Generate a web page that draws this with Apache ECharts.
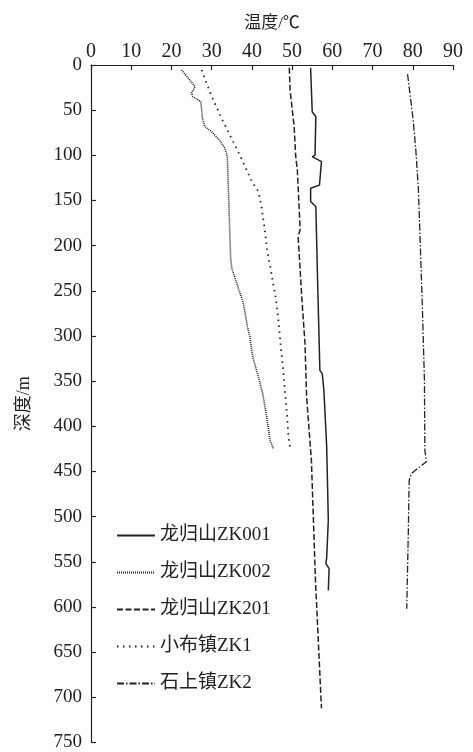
<!DOCTYPE html>
<html>
<head>
<meta charset="utf-8">
<script src="https://cdn.jsdelivr.net/npm/echarts@6/dist/echarts.min.js"></script>
<style>
  html, body { margin: 0; padding: 0; background: #fff; }
  #chart { width: 473px; height: 752px; }
</style>
</head>
<body>
<div id="chart"></div>
<script>
// 井温数据：深度(m) 与 温度(℃)
const zk001Depth = [3, 52, 57, 100, 101.5, 107, 133, 136.5, 151, 157, 250, 338, 342, 360, 423, 504, 545, 552, 557.6, 581.6];
const zk001Temp  = [54.6, 55.0, 55.9, 55.7, 55.0, 57.3, 56.8, 54.6, 54.6, 55.9, 56.4, 56.9, 57.5, 57.9, 58.6, 59.0, 58.6, 58.4, 59.2, 59.0];

const zk002Depth = [5.5, 24, 31, 35, 40.6, 59, 68, 74, 83, 92, 101.6, 157, 212, 225, 264, 290, 301, 323, 345, 364, 390, 415, 424.6];
const zk002Temp  = [22.5, 25.9, 25.0, 25.3, 27.3, 27.7, 28.3, 30.0, 31.9, 33.3, 33.9, 34.3, 34.7, 35.0, 37.9, 38.9, 39.5, 40.2, 41.6, 42.7, 43.7, 44.5, 45.3];

const zk201Depth = [3, 28, 68, 101.5, 116, 182, 190, 257, 308, 367, 438, 570, 712];
const zk201Temp  = [49.3, 49.5, 50.5, 50.9, 51.3, 52.0, 51.5, 52.4, 53.2, 53.6, 54.8, 55.8, 57.3];

const zk1Depth = [5.5, 35, 63, 96, 129, 140, 157, 186, 205, 222, 257, 283, 312, 338, 360, 386, 412, 423];
const zk1Temp  = [27.5, 30.0, 32.9, 36.6, 40.0, 41.6, 42.4, 43.3, 43.8, 44.5, 45.9, 46.6, 47.2, 47.8, 48.2, 48.7, 49.1, 49.5];

const zk2Depth = [10, 57, 90.5, 138, 190, 270, 349, 426.5, 439, 452, 460, 515, 602];
const zk2Temp  = [78.7, 80.0, 80.7, 81.4, 81.8, 82.4, 82.9, 83.0, 83.4, 79.7, 79.1, 78.9, 78.5];

const wellNames = ['龙归山ZK001', '龙归山ZK002', '龙归山ZK201', '小布镇ZK1', '石上镇ZK2'];

const fontFamily = "'Liberation Serif', 'Noto Sans CJK SC', serif";
const chart = echarts.init(document.getElementById('chart'));

function pairs(temps, depths) {
    return temps.map((t, i) => [t, depths[i]]);
}

function makeSeries(name, temps, depths, lineType, width) {
    return {
        name: name,
        type: 'line',
        symbol: 'none',
        smooth: false,
        data: pairs(temps, depths),
        lineStyle: {
            color: '#222',
            width: width,
            type: lineType
        },
        itemStyle: { color: '#222' }
    };
}

const options = {
    animation: false,
    textStyle: { fontFamily: fontFamily },
    grid: {
        left: 91,
        right: 20,
        top: 65,
        bottom: 9,
        containLabel: false
    },
    legend: {
        orient: 'vertical',
        left: 116,
        top: 526,
        padding: 0,
        itemWidth: 38,
        itemHeight: 14,
        itemGap: 18,
        data: wellNames,
        itemStyle: { opacity: 0 },
        textStyle: {
            fontFamily: fontFamily,
            fontSize: 19,
            color: '#222'
        }
    },
    xAxis: {
        type: 'value',
        position: 'top',
        min: 0,
        max: 90,
        interval: 10,
        name: '温度/℃',
        nameLocation: 'middle',
        nameGap: 33,
        nameTextStyle: {
            fontFamily: fontFamily,
            fontSize: 17,
            color: '#222'
        },
        axisLine: { show: true, lineStyle: { color: '#222', width: 1.2 } },
        axisTick: { show: true, inside: true, length: 5, lineStyle: { color: '#222', width: 1.2 } },
        axisLabel: {
            margin: 3,
            fontFamily: fontFamily,
            fontSize: 20,
            color: '#222'
        },
        splitLine: { show: false }
    },
    yAxis: {
        type: 'value',
        inverse: true,
        min: 0,
        max: 750,
        interval: 50,
        name: '深度/m',
        nameLocation: 'middle',
        nameGap: 58,
        nameRotate: 90,
        nameTextStyle: {
            fontFamily: fontFamily,
            fontSize: 18,
            color: '#222'
        },
        axisLine: { show: true, lineStyle: { color: '#222', width: 1.2 } },
        axisTick: { show: true, inside: true, length: 5, lineStyle: { color: '#222', width: 1.2 } },
        axisLabel: {
            margin: 9,
            fontFamily: fontFamily,
            fontSize: 19,
            color: '#222'
        },
        splitLine: { show: false }
    },
    series: [
        makeSeries(wellNames[0], zk001Temp, zk001Depth, 'solid', 1.5),
        makeSeries(wellNames[1], zk002Temp, zk002Depth, [1, 1], 1.6),
        makeSeries(wellNames[2], zk201Temp, zk201Depth, [6, 2.5], 1.5),
        makeSeries(wellNames[3], zk1Temp, zk1Depth, [1.5, 4.5], 1.8),
        makeSeries(wellNames[4], zk2Temp, zk2Depth, [7, 2, 1.5, 2], 1.3)
    ]
};
chart.setOption(options);
</script>
</body>
</html>
